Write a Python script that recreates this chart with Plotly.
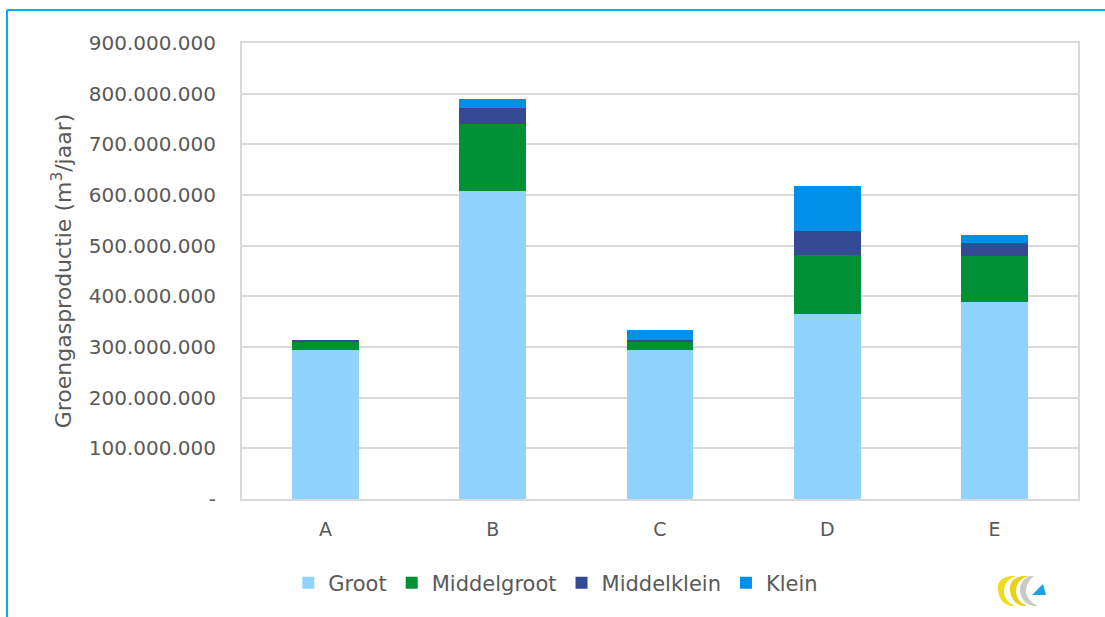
import plotly.graph_objects as go

categories = ["A", "B", "C", "D", "E"]
groot = [293.5e6, 608e6, 293.5e6, 366e6, 388e6]
middelgroot = [17e6, 133e6, 17e6, 116e6, 92e6]
middelklein = [4e6, 30e6, 2.5e6, 47.6e6, 24.5e6]
klein = [0, 18e6, 20e6, 89e6, 16.5e6]

series_names = ["Groot", "Middelgroot", "Middelklein", "Klein"]
series_colors = ["#8FD3FE", "#009036", "#344A94", "#0090EA"]

tick_vals = [0, 100e6, 200e6, 300e6, 400e6, 500e6, 600e6, 700e6, 800e6, 900e6]
tick_text = ["-", "100.000.000", "200.000.000", "300.000.000", "400.000.000",
             "500.000.000", "600.000.000", "700.000.000", "800.000.000", "900.000.000"]

W, H = 1105, 617
L, R, T, B = 242, 1078, 43, 499
FONT = "DejaVu Sans"
GRAY = "#595959"

fig = go.Figure()
for name, vals, col in zip(series_names, [groot, middelgroot, middelklein, klein], series_colors):
    fig.add_trace(go.Bar(name=name, x=categories, y=vals, marker=dict(color=col, line=dict(width=0)),
                         width=0.4))


def px(x):
    return (x - L) / (R - L)


def py(y):
    return (B - y) / (B - T)


def path(points_cmds):
    out = []
    for cmd, pts in points_cmds:
        s = cmd
        s += " ".join(f"{px(x):.5f},{py(y):.5f}" for x, y in pts)
        out.append(s)
    return " ".join(out) + " Z"


shapes = []
# outer blue frame (top and left)
shapes.append(dict(type="line", xref="paper", yref="paper", x0=px(7), x1=px(1110), y0=py(10), y1=py(10),
                   line=dict(color="#00AEEF", width=2)))
shapes.append(dict(type="line", xref="paper", yref="paper", x0=px(7), x1=px(7), y0=py(10), y1=py(625),
                   line=dict(color="#00AEEF", width=2)))

# logo
for dx, col in [(0, "#F0DC1E"), (12, "#E6D21C")]:
    shapes.append(dict(type="path", xref="paper", yref="paper", line=dict(width=0), fillcolor=col,
                       path=path([("M", [(1011 + dx, 576)]), ("Q", [(996 + dx, 578), (998 + dx, 591)]),
                                  ("Q", [(1000 + dx, 604), (1011 + dx, 606)]), ("L", [(1015 + dx, 606)]),
                                  ("Q", [(1004 + dx, 601), (1004 + dx, 591)]),
                                  ("Q", [(1004 + dx, 580), (1016 + dx, 576)])])))
shapes.append(dict(type="path", xref="paper", yref="paper", line=dict(width=0), fillcolor="#C9C9C9",
                   path=path([("M", [(1029, 576)]), ("Q", [(1019, 581), (1020, 592)]),
                              ("Q", [(1022, 604), (1033, 606)]), ("L", [(1038, 606)]),
                              ("Q", [(1027, 601), (1026, 592)]), ("Q", [(1026, 582), (1034, 576)])])))
shapes.append(dict(type="path", xref="paper", yref="paper", line=dict(width=0), fillcolor="#1EA0E6",
                   path=path([("M", [(1032, 595)]), ("L", [(1046, 595)]), ("L", [(1043, 584)])])))

fig.update_layout(
    width=W, height=H,
    margin=dict(l=L, r=W - R, t=T, b=H - B),
    barmode="stack",
    bargap=0.6,
    plot_bgcolor="white", paper_bgcolor="white",
    font=dict(family=FONT, color=GRAY, size=18),
    showlegend=True,
    legend=dict(orientation="h", xref="container", yref="container", x=0.503, xanchor="center",
                y=1 - 583 / H, yanchor="middle", font=dict(family=FONT, size=21, color=GRAY),
                traceorder="normal", itemsizing="constant", entrywidth=0, tracegroupgap=0),
    shapes=shapes,
)
fig.update_yaxes(range=[0, 900e6], tickvals=tick_vals, ticktext=tick_text,
                 tickfont=dict(family=FONT, size=20, color=GRAY),
                 showgrid=True, gridcolor="#D9D9D9", gridwidth=2,
                 showline=True, linecolor="#D9D9D9", linewidth=2, mirror=True,
                 zeroline=False, ticks="", ticklabelstandoff=20,
                 title=dict(text="Groengasproductie (m<sup>3</sup>/jaar)",
                            font=dict(family=FONT, size=22, color=GRAY), standoff=11))
fig.update_xaxes(showline=True, linecolor="#D9D9D9", linewidth=2, mirror=True, ticks="",
                 tickfont=dict(family=FONT, size=19, color=GRAY), ticklabelstandoff=12, showgrid=False)

fig.write_html("out.html", config={"displayModeBar": False},
               post_script="document.body.style.margin='0';document.body.style.overflow='hidden';")
